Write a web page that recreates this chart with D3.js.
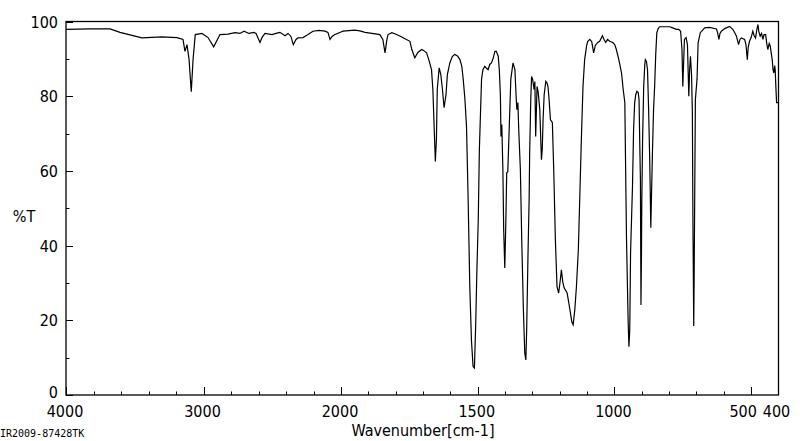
<!DOCTYPE html>
<html>
<head>
<meta charset="utf-8">
<script src="https://cdn.jsdelivr.net/npm/d3@7"></script>
<style>
  body { margin: 0; background: #fff; }
  text { font-family: "Liberation Sans Narrow", "DejaVu Sans Condensed", sans-serif; fill: #000; }
</style>
</head>
<body>
<div id="chart"></div>
<script>
// IR spectrum, wavenumber (cm-1) vs %T
const wavenumber = [
  4000, 3825, 3680, 3607, 3447, 3302, 3193, 3149, 3135, 3120, 3105, 3089, 3076, 3060, 3011, 2967, 2926, 2880, 2822, 2771,
  2735, 2705, 2669, 2633, 2618, 2589, 2575, 2553, 2502, 2473, 2444, 2407, 2385, 2364, 2347, 2327, 2313, 2276, 2240, 2204,
  2160, 2116, 2095, 2080, 2065, 2044, 2000, 1993, 1949, 1931, 1912, 1887, 1858, 1847, 1839, 1832, 1828, 1814, 1799, 1785,
  1766, 1748, 1741, 1730, 1719, 1705, 1697, 1687, 1679, 1669, 1664, 1659, 1655, 1651, 1648, 1641, 1635, 1629, 1623, 1616,
  1611, 1602, 1593, 1584, 1574, 1565, 1558, 1553, 1547, 1541, 1535, 1529, 1523, 1517, 1512, 1507, 1503, 1498, 1494, 1486,
  1481, 1474, 1467, 1462, 1456, 1450, 1445, 1437, 1432, 1425, 1421, 1417, 1415, 1412, 1408, 1405, 1401, 1397, 1394, 1390,
  1385, 1379, 1371, 1364, 1359, 1357, 1353, 1350, 1344, 1339, 1333, 1328, 1324, 1321, 1316, 1312, 1310, 1306, 1303, 1299,
  1294, 1291, 1288, 1283, 1279, 1273, 1267, 1264, 1261, 1257, 1251, 1247, 1243, 1239, 1234, 1229, 1227, 1222, 1216, 1210,
  1204, 1198, 1194, 1189, 1184, 1173, 1167, 1161, 1156, 1151, 1145, 1139, 1132, 1127, 1121, 1115, 1109, 1102, 1098, 1090,
  1083, 1076, 1070, 1061, 1054, 1044, 1038, 1032, 1025, 1017, 1005, 999, 993, 984, 974, 968, 962, 959, 956, 950,
  947, 944, 941, 934, 930, 926, 922, 918, 913, 910, 907, 905, 903, 901, 900, 897, 893, 889, 887, 883,
  879, 875, 871, 867, 864, 861, 857, 853, 849, 845, 840, 835, 816, 798, 787, 774, 765, 758, 753, 750,
  744, 738, 733, 728, 725, 722, 718, 715, 713, 710, 708, 704, 698, 694, 686, 670, 652, 627, 623, 618,
  614, 609, 597, 579, 567, 561, 554, 546, 541, 536, 524, 519, 514, 511, 506, 500, 494, 489, 484, 479,
  475, 472, 467, 462, 457, 453, 447, 443, 439, 434, 430, 426, 423, 420, 417, 414, 412, 410, 407, 401
];
const transmittance = [
  97.9, 98.0, 98.0, 97.1, 95.6, 95.9, 95.7, 95.2, 92.0, 93.8, 89.8, 81.2, 89.8, 96.5, 96.8, 95.7, 93.2, 96.5, 96.6, 97.0,
  96.8, 97.4, 96.8, 97.1, 96.8, 94.4, 95.7, 96.8, 96.5, 96.8, 97.1, 96.2, 96.8, 96.0, 93.8, 95.2, 95.6, 95.7, 96.5, 97.4,
  97.6, 97.4, 97.1, 95.2, 96.0, 96.5, 97.2, 97.4, 97.7, 97.5, 97.1, 96.8, 96.5, 95.2, 91.6, 95.2, 96.5, 97.0, 96.6, 96.1,
  95.4, 94.7, 92.5, 90.3, 91.7, 92.5, 92.2, 91.6, 89.8, 87.1, 81.8, 71.0, 62.5, 68.4, 81.8, 87.6, 85.8, 81.8, 76.9, 80.4,
  85.8, 88.9, 90.6, 91.2, 90.8, 89.8, 87.9, 84.5, 79.4, 71.9, 52.3, 29.0, 14.7, 7.6, 7.2, 20.1, 33.5, 46.9, 65.7, 84.5,
  87.1, 88.0, 87.4, 87.1, 88.5, 88.9, 89.8, 92.0, 92.0, 90.7, 87.1, 80.0, 69.2, 72.4, 60.3, 44.2, 34.0, 46.9, 59.5, 59.8,
  71.0, 84.5, 88.9, 87.1, 79.1, 76.4, 78.3, 71.0, 60.3, 41.6, 22.8, 11.3, 9.4, 17.4, 38.1, 52.3, 64.9, 79.1, 85.3, 84.5,
  81.8, 83.9, 69.2, 82.6, 81.2, 76.4, 63.0, 65.7, 73.7, 80.4, 84.0, 83.6, 82.6, 79.1, 73.7, 73.2, 72.9, 60.3, 41.6, 29.0,
  27.3, 30.8, 33.5, 30.3, 28.7, 27.3, 24.7, 22.0, 19.6, 18.8, 22.8, 29.0, 38.9, 52.3, 68.4, 82.6, 89.8, 93.4, 94.6, 95.2,
  94.6, 91.6, 93.6, 94.4, 94.7, 96.2, 95.2, 94.4, 95.2, 94.7, 94.3, 93.8, 92.5, 89.8, 86.2, 81.8, 78.3, 60.3, 42.4, 20.1,
  12.9, 17.4, 38.1, 55.8, 71.0, 78.3, 80.4, 81.3, 81.0, 79.1, 65.7, 57.6, 24.1, 38.9, 51.5, 68.4, 82.6, 88.5, 89.8, 89.3,
  87.1, 76.4, 63.0, 44.8, 55.0, 64.9, 76.4, 82.6, 91.2, 97.0, 98.1, 98.6, 98.6, 98.6, 98.3, 97.9, 97.9, 97.4, 92.5, 82.6,
  95.2, 95.7, 93.8, 80.0, 87.1, 90.7, 85.8, 75.6, 46.9, 18.5, 36.2, 79.1, 84.5, 94.3, 97.0, 98.3, 98.4, 98.0, 97.1, 95.2,
  96.8, 97.4, 98.1, 98.7, 97.9, 97.1, 96.1, 93.8, 95.2, 95.6, 95.2, 93.8, 89.8, 93.0, 94.7, 95.7, 97.4, 96.2, 95.6, 97.9,
  99.2, 97.3, 96.1, 96.8, 95.2, 96.5, 96.5, 94.1, 92.5, 94.1, 93.4, 91.2, 89.8, 87.1, 86.2, 88.2, 87.1, 83.1, 78.3, 78.3
];

const xMajor = [4000, 3000, 2000, 1500, 1000, 500];
const xLabels = [4000, 3000, 2000, 1500, 1000, 500, 400];
const yMajor = [0, 20, 40, 60, 80, 100];
const yMinor = [10, 30, 50, 70, 90];
const xMinor = [3800, 3600, 3400, 3200, 2800, 2600, 2400, 2200,
  1900, 1800, 1700, 1600, 1400, 1300, 1200, 1100, 900, 800, 700, 600];

const width = 800, height = 441;
const plotL = 66, plotR = 778.5, plotT = 21.5, plotB = 395;

const svg = d3.select("#chart").append("svg")
  .attr("width", width)
  .attr("height", height);

// wavenumber axis is expanded below 2000 cm-1
const x = d3.scaleLinear().domain([4000, 2000, 400]).range([plotL, 341, plotR]);
const y = d3.scaleLinear().domain([0, 100]).range([plotB, plotT]);

// frame
svg.append("rect")
  .attr("x", plotL).attr("y", plotT)
  .attr("width", plotR - plotL).attr("height", plotB - plotT)
  .attr("fill", "none").attr("stroke", "#000").attr("stroke-width", 1.3);

// bottom ticks (pointing into the plot)
svg.append("g").selectAll("line")
  .data(xMajor.map(d => [d, 8]).concat(xMinor.map(d => [d, 3.5])))
  .join("line")
  .attr("x1", d => Math.round(x(d[0])) + 0.5).attr("x2", d => Math.round(x(d[0])) + 0.5)
  .attr("y1", plotB).attr("y2", d => plotB - d[1])
  .attr("stroke", "#000").attr("stroke-width", 1);

// left ticks
svg.append("g").selectAll("line")
  .data(yMajor.map(d => [d, 7]).concat(yMinor.map(d => [d, 3.5])))
  .join("line")
  .attr("x1", plotL).attr("x2", d => plotL + d[1])
  .attr("y1", d => Math.round(y(d[0])) + 0.5).attr("y2", d => Math.round(y(d[0])) + 0.5)
  .attr("stroke", "#000").attr("stroke-width", 1);

// tick labels
const labelShift = { 500: -8, 400: -2 };
svg.append("g").selectAll("text")
  .data(xLabels)
  .join("text")
  .attr("x", d => x(d) + (labelShift[d] || -1))
  .attr("y", 417)
  .attr("text-anchor", "middle")
  .attr("font-size", 16)
  .text(d => d);

svg.append("g").selectAll("text")
  .data(yMajor)
  .join("text")
  .attr("x", 58)
  .attr("y", d => y(d) + (d === 0 ? 3 : 6))
  .attr("text-anchor", "end")
  .attr("font-size", 16)
  .text(d => d);

svg.append("text")
  .attr("x", 24).attr("y", 222)
  .attr("text-anchor", "middle")
  .attr("font-size", 16)
  .text("%T");

svg.append("text")
  .attr("x", 423).attr("y", 436)
  .attr("text-anchor", "middle")
  .attr("font-size", 16)
  .text("Wavenumber[cm-1]");

svg.append("text")
  .attr("x", 0).attr("y", 437)
  .attr("font-size", 10)
  .style("font-family", "'DejaVu Sans Mono', monospace")
  .text("IR2009-87428TK");

// spectrum
const line = d3.line()
  .x(d => x(d[0]))
  .y(d => y(d[1]));

svg.append("path")
  .datum(d3.zip(wavenumber, transmittance))
  .attr("d", line)
  .attr("fill", "none")
  .attr("stroke", "#000")
  .attr("stroke-width", 1.2);
</script>
</body>
</html>
